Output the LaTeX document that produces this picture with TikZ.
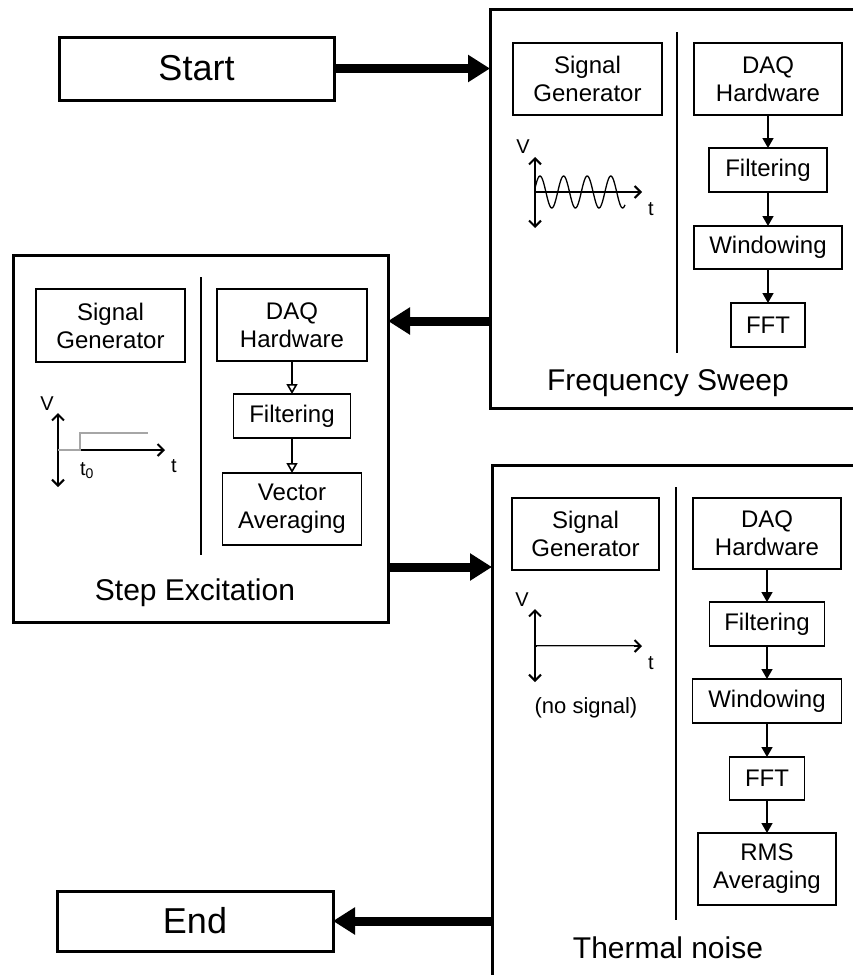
\documentclass[tikz,border=0pt]{standalone}
\usepackage{fontspec}
\setmainfont{Liberation Sans}
\usetikzlibrary{arrows.meta}
\begin{document}
\begin{tikzpicture}[x=1pt,y=-1pt,
  frame/.style={draw, line width=3pt, inner sep=0pt, outer sep=0pt, anchor=north west},
  blk/.style={draw, line width=1.6pt, inner sep=0pt, outer sep=0pt, align=center,
              font=\fontsize{24}{28}\selectfont},
  term/.style={draw, line width=3pt, inner sep=0pt, outer sep=0pt,
               font=\fontsize{36}{40}\selectfont},
  title/.style={inner sep=0pt, font=\fontsize{30}{36}\selectfont},
  bigarr/.style={line width=9pt, -{Triangle[length=22pt,width=26pt]}},
  flow/.style={line width=1.6pt, -{Triangle[length=10pt,width=11pt]}},
  flowopen/.style={line width=1.6pt, -{Triangle[open,length=10pt,width=11pt]}},
  axis/.style={line width=2pt, -{Straight Barb[length=6pt,width=12pt]}},
  axisboth/.style={line width=2pt, {Straight Barb[length=6pt,width=12pt]}-{Straight Barb[length=6pt,width=12pt]}},
  divider/.style={line width=1.4pt},
  axlbl/.style={inner sep=0pt, font=\fontsize{20}{22}\selectfont},
  signal/.style={line width=1.2pt, gray!70}
]
\useasboundingbox (0,0) rectangle (853,975);
\clip (0,0) rectangle (853,975);

% ---------- start / end terminals ----------
\node[term, minimum width=275pt, minimum height=63pt] (start) at (196.5,68.5) {Start};
\node[term, minimum width=276pt, minimum height=60pt] (end) at (195,921) {End};

% ---------- frequency sweep panel ----------
\node[frame, minimum width=420pt, minimum height=399pt] (freq) at (490,9) {};
\node[blk, minimum width=149pt, minimum height=72pt] (fsg)  at (587.5,79) {Signal\\Generator};
\node[blk, minimum width=148pt, minimum height=72pt] (fdaq) at (768,79) {DAQ\\Hardware};
\node[blk, minimum width=118pt, minimum height=44pt] (ffil) at (768,170) {Filtering};
\node[blk, minimum width=148pt, minimum height=43pt] (fwin) at (768,247.5) {Windowing};
\node[blk, minimum width=74pt,  minimum height=44pt] (ffft) at (768,325) {FFT};
\draw[divider] (677,32) -- (677,353);
\node[title] (ftitle) at (668,383) {Frequency Sweep};
\draw[flow] (fdaq) -- (ffil);
\draw[flow] (ffil) -- (fwin);
\draw[flow] (fwin) -- (ffft);
% sine excitation
\coordinate (fo) at (535,192);
\draw[axisboth] (535,157) -- (535,228);
\draw[axis] (fo) -- (642,192);
\draw[line width=1.3pt] plot[domain=535:625, samples=120] (\x, {192-16*cos(15.254*(\x-540))});
\node[axlbl] (fv) at (523,147) {V};
\node[axlbl] (ft) at (651,209) {t};

% ---------- step excitation panel ----------
\node[frame, minimum width=375pt, minimum height=367pt] (step) at (13,255) {};
\node[blk, minimum width=149pt, minimum height=73pt] (ssg)  at (110.5,325.5) {Signal\\Generator};
\node[blk, minimum width=150pt, minimum height=72pt] (sdaq) at (292,325) {DAQ\\Hardware};
\node[blk, minimum width=117pt, minimum height=44pt] (sfil) at (292,416) {Filtering};
\node[blk, minimum width=139pt, minimum height=72pt] (svec) at (292,509) {Vector\\Averaging};
\draw[divider] (201,277) -- (201,555);
\node[title] (stitle) at (195,593) {Step Excitation};
\draw[flowopen] (sdaq) -- (sfil);
\draw[flowopen] (sfil) -- (svec);
% step excitation sketch
\draw[axisboth] (58,413) -- (58,487);
\draw[axis] (80,450) -- (165,450);
\draw[signal] (58,450) -- (80,450) -- (80,433) -- (148,433);
\node[axlbl] (sv) at (47,404) {V};
\node[axlbl] (st) at (174,466) {t};
\node[axlbl] (st0) at (87,471) {t\textsubscript{0}};

% ---------- thermal noise panel ----------
\node[frame, minimum width=420pt, minimum height=540pt] (therm) at (492,465) {};
\node[blk, minimum width=147pt, minimum height=72pt] (tsg)  at (585.5,534) {Signal\\Generator};
\node[blk, minimum width=148pt, minimum height=71pt] (tdaq) at (767,533.5) {DAQ\\Hardware};
\node[blk, minimum width=115pt, minimum height=44pt] (tfil) at (767,624) {Filtering};
\node[blk, minimum width=149pt, minimum height=44pt] (twin) at (767,701) {Windowing};
\node[blk, minimum width=75pt,  minimum height=43pt] (tfft) at (767,778.5) {FFT};
\node[blk, minimum width=138pt, minimum height=72pt] (trms) at (767,869) {RMS\\Averaging};
\draw[divider] (676,487) -- (676,920);
\node[title] (ttitle) at (668,948) {Thermal noise};
\draw[flow] (tdaq) -- (tfil);
\draw[flow] (tfil) -- (twin);
\draw[flow] (twin) -- (tfft);
\draw[flow] (tfft) -- (trms);
% zero excitation
\draw[axisboth] (535,609) -- (535,682);
\draw[axis] (535,646) -- (642,646);
\draw[line width=0.7pt, gray!60] (537,646) -- (634,646);
\node[axlbl] (tv) at (522,600) {V};
\node[axlbl] (tt) at (651,663) {t};
\node[axlbl, font=\fontsize{22}{26}\selectfont] (tnone) at (586,708) {(no signal)};

% ---------- sequence connectors ----------
\coordinate (y1) at (0,321);
\coordinate (y2) at (0,567);
\draw[bigarr] (start.east) -- (start.east -| freq.west);
\draw[bigarr] (freq.west |- y1) -- (step.east |- y1);
\draw[bigarr] (step.east |- y2) -- (therm.west |- y2);
\draw[bigarr] (therm.west |- end.east) -- (end.east);
\end{tikzpicture}
\end{document}
